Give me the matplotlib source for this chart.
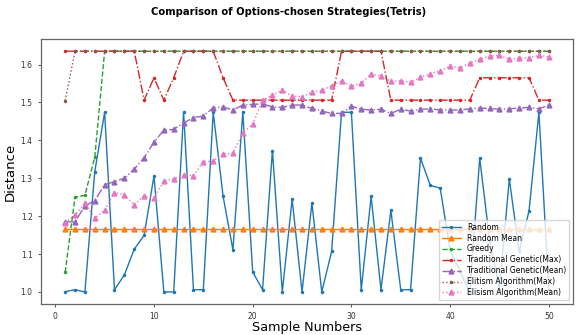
import matplotlib
matplotlib.use("Agg")
import matplotlib.pyplot as plt
import numpy as np

# ── Data ──────────────────────────────────────────────────────────────────────
samples = np.arange(1, 51)

random_vals = [1.001, 1.006, 1.000, 1.317, 1.474, 1.006, 1.045, 1.113, 1.149, 1.306,
               1.000, 1.000, 1.474, 1.006, 1.006, 1.474, 1.253, 1.111, 1.474, 1.053,
               1.006, 1.373, 1.000, 1.245, 1.000, 1.234, 1.000, 1.107, 1.474, 1.474,
               1.006, 1.252, 1.006, 1.215, 1.006, 1.006, 1.353, 1.281, 1.274, 1.111,
               1.055, 1.000, 1.353, 1.138, 1.006, 1.298, 1.107, 1.214, 1.474, 1.006]

random_mean = [1.167] * 50

greedy = [1.052, 1.250, 1.255, 1.355] + [1.635] * 46

tg_max = ([1.635] * 8 + [1.506, 1.565, 1.506, 1.565] + [1.635] * 4 + [1.565]
          + [1.506] * 11 + [1.635] * 5 + [1.506] * 9 + [1.565] * 6 + [1.506] * 2)

tg_mean = [1.185, 1.185, 1.227, 1.241, 1.283, 1.291, 1.300, 1.324, 1.354, 1.395,
           1.427, 1.429, 1.446, 1.460, 1.464, 1.486, 1.488, 1.480, 1.493, 1.495,
           1.496, 1.488, 1.487, 1.493, 1.493, 1.484, 1.477, 1.471, 1.471, 1.490,
           1.482, 1.480, 1.482, 1.471, 1.482, 1.477, 1.482, 1.483, 1.480, 1.480,
           1.480, 1.483, 1.485, 1.484, 1.482, 1.483, 1.485, 1.487, 1.483, 1.493]

el_max = [1.505] + [1.635] * 49

el_mean = [1.182, 1.203, 1.234, 1.195, 1.215, 1.262, 1.256, 1.230, 1.253, 1.247,
           1.293, 1.298, 1.309, 1.307, 1.344, 1.345, 1.364, 1.366, 1.420, 1.442,
           1.506, 1.519, 1.532, 1.517, 1.515, 1.527, 1.532, 1.544, 1.557, 1.543,
           1.550, 1.575, 1.570, 1.556, 1.557, 1.553, 1.566, 1.576, 1.583, 1.595,
           1.592, 1.603, 1.614, 1.622, 1.624, 1.614, 1.617, 1.618, 1.624, 1.620]

# ── Figure ────────────────────────────────────────────────────────────────────
fig = plt.figure(figsize=(5.77, 3.35), dpi=100)
ax = fig.add_axes([0.071, 0.0925, 0.922, 0.7905])

ax.plot(samples, random_vals, "-", marker=".", ms=3, lw=1, color="C0", label="Random")
ax.plot(samples, random_mean, "-", marker="^", ms=3.5, lw=1, color="C1", label="Random Mean")
ax.plot(samples, greedy, "--", marker=".", ms=3, lw=1, color="C2", label="Greedy")
ax.plot(samples, tg_max, "-.", marker=".", ms=3, lw=1, color="C3", label="Traditional Genetic(Max)")
ax.plot(samples, tg_mean, "-.", marker="^", ms=3.5, lw=1, color="C4", label="Traditional Genetic(Mean)")
ax.plot(samples, el_max, ":", marker=".", ms=3, lw=1, color="C5", label="Elitism Algorithm(Max)")
ax.plot(samples, el_mean, ":", marker="^", ms=3.5, lw=1, color="C6", label="Elisism Algorithm(Mean)")

ax.set_xticks([0, 10, 20, 30, 40, 50])
ax.set_yticks([1.0, 1.1, 1.2, 1.3, 1.4, 1.5, 1.6])
ax.tick_params(labelsize=5.5, length=2.5, width=0.6, colors="#333333")
for s in ax.spines.values():
    s.set_color("#666666")
    s.set_linewidth(0.9)

ax.set_xlabel("Sample Numbers", fontsize=9.2, labelpad=0)
ax.set_ylabel("Distance", fontsize=9.5, labelpad=3)

fig.text(0.5, 1 - 12 / 335, "Comparison of Options-chosen Strategies(Tetris)",
         ha="center", va="center", fontsize=7.2, fontweight="bold")

ax.legend(loc="lower right", fontsize=5.5, handlelength=2.5, labelspacing=0.25,
          borderpad=0.4, framealpha=0.8)

fig.savefig("out.png", dpi=100)
